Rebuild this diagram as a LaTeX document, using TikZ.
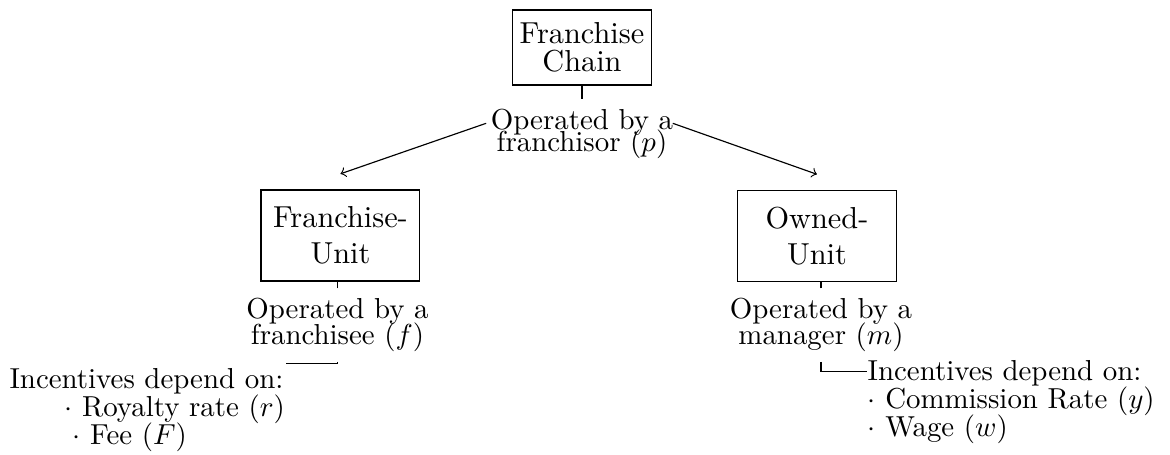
\documentclass[tikz,border=0pt]{standalone}
\usepackage{tikz}

\begin{document}
\begin{tikzpicture}[
    chainbox/.style={draw, align=center, minimum height=26pt, inner xsep=2.6pt, font=\fontsize{10.5}{12.6}\selectfont},
    unitbox/.style={draw, align=center, minimum width=55pt, minimum height=31.5pt, font=\fontsize{10.5}{12.6}\selectfont},
    optext/.style={align=center},
    incentive/.style={align=left, inner xsep=0pt, inner ysep=1.5pt}]
    \useasboundingbox (0,0) rectangle (14.234,-5.535);

    % Chain at the top and who runs it
    \node[chainbox] (chain) at (7.08,-0.578) {Franchise\\[-2.9pt]Chain};
    \node[optext] (franchisor) at (7.08,-1.628) {Operated by a\\[-4.4pt]franchisor ($p$)};
    \draw (chain.south) -- (franchisor.north);

    % The two kinds of unit
    \node[unitbox] (franunit) at (4.142,-2.865) {Franchise-\\Unit};
    \node[unitbox] (ownunit) at (9.939,-2.871) {Owned-\\Unit};
    \draw [->] ([shift={(0.067,0.128)}]franchisor.west) -- ([yshift=0.19cm]franunit.north);
    \draw [->] ([shift={(-0.128,0.128)}]franchisor.east) -- ([yshift=0.19cm]ownunit.north);

    % Who operates each unit
    \node[optext] (franchisee) at (4.106,-3.955) {Operated by a\\[-3.2pt]franchisee ($f$)};
    \node[optext] (manager) at (9.988,-3.955) {Operated by a\\[-3.2pt]manager ($m$)};
    \draw (franchisee.north) -- (franchisee.north |- franunit.south);
    \draw (manager.north) -- (manager.north |- ownunit.south);

    % Incentives of each operator
    \node[incentive, anchor=north west] (incfran) at (0.109,-4.421)
        {Incentives depend on:\\[-2.3pt]\hspace{19pt}$\cdot$ Royalty rate ($r$)\\[-2.3pt]\hspace{21.8pt}$\cdot$ Fee ($F$)};
    \node[incentive, anchor=north west] (incown) at (10.548,-4.327)
        {Incentives depend on:\\[-2.3pt]$\cdot$ Commission Rate ($y$)\\[-2.3pt]$\cdot$ Wage ($w$)};
    \draw (franchisee.south) |- (incfran.north east);
    \draw (manager.south) |- ([yshift=-5.5pt]incown.north west);
\end{tikzpicture}
\end{document}
